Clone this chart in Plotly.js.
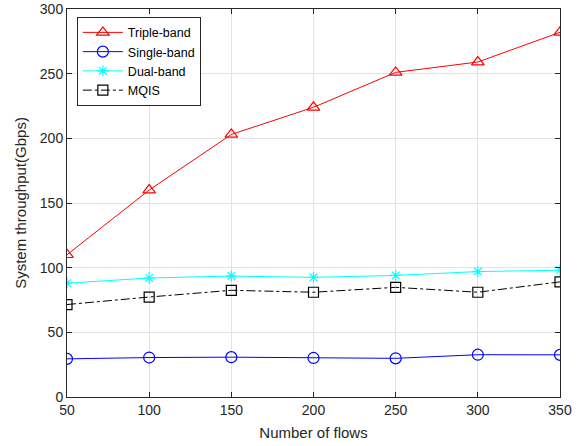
<!DOCTYPE html>
<html><head><meta charset="utf-8">
<script src="https://cdn.plot.ly/plotly-3.0.1.min.js"></script>
<style>body{margin:0;background:#fff}#c{width:586px;height:446px}</style>
</head><body><div id="c"></div>
<script>
const flows = [50, 100, 150, 200, 250, 300, 350];
const tripleBand = [110, 160, 203, 224, 251, 259, 282];
const singleBand = [29.5, 30.5, 30.8, 30.2, 29.9, 32.7, 32.6];
const dualBand = [88, 92, 93.5, 92.5, 94, 97, 98];
const mqis = [71.5, 77.3, 82.5, 81, 84.8, 81, 89];
const seriesNames = ['Triple-band', 'Single-band', 'Dual-band', 'MQIS'];

const traces = [
  {x: flows, y: tripleBand, name: seriesNames[0], mode: 'lines+markers',
   line: {color: '#ff0000', width: 1}, marker: {symbol: 'triangle-up-open', size: 11, color: '#ff0000', line: {width: 1.2}}},
  {x: flows, y: singleBand, name: seriesNames[1], mode: 'lines+markers',
   line: {color: '#0000ff', width: 1}, marker: {symbol: 'circle-open', size: 11, color: '#0000ff', line: {width: 1.2}}},
  {x: flows, y: dualBand, name: seriesNames[2], mode: 'lines+markers',
   line: {color: '#00ffff', width: 1}, marker: {symbol: 'asterisk-open', size: 9, color: '#00ffff', line: {width: 1.2}}},
  {x: flows, y: mqis, name: seriesNames[3], mode: 'lines+markers',
   line: {color: '#000000', width: 1, dash: 'dashdot'}, marker: {symbol: 'square-open', size: 10, color: '#000000', line: {width: 1.2}}}
];

const axisCommon = {
  showline: true, linecolor: '#262626', linewidth: 1, mirror: 'ticks',
  ticks: 'inside', ticklen: 5, tickcolor: '#262626',
  showgrid: true, gridcolor: '#e3e3e3', gridwidth: 1, zeroline: false,
  tickfont: {family: 'Liberation Sans, Arial, sans-serif', size: 14, color: '#262626'}
};

const layout = {
  width: 586, height: 446,
  margin: {l: 67, r: 26, t: 9, b: 49},
  paper_bgcolor: '#ffffff', plot_bgcolor: '#ffffff',
  font: {family: 'Liberation Sans, Arial, sans-serif', color: '#262626'},
  xaxis: Object.assign({}, axisCommon, {
    range: [50, 350], dtick: 50, tick0: 50,
    title: {text: 'Number of flows', font: {size: 15, color: '#262626'}, standoff: 10}
  }),
  yaxis: Object.assign({}, axisCommon, {
    range: [0, 300], dtick: 50, tick0: 0,
    title: {text: 'System throughput(Gbps)', font: {size: 15, color: '#262626'}, standoff: 9}
  }),
  legend: {
    x: 0.02, y: 0.98, xanchor: 'left', yanchor: 'top',
    bgcolor: '#ffffff', bordercolor: '#262626', borderwidth: 1,
    font: {size: 12.5, color: '#000000'}, tracegroupgap: 0, itemwidth: 40
  },
  showlegend: true
};

Plotly.newPlot('c', traces, layout, {displayModeBar: false, staticPlot: true});
</script></body></html>
